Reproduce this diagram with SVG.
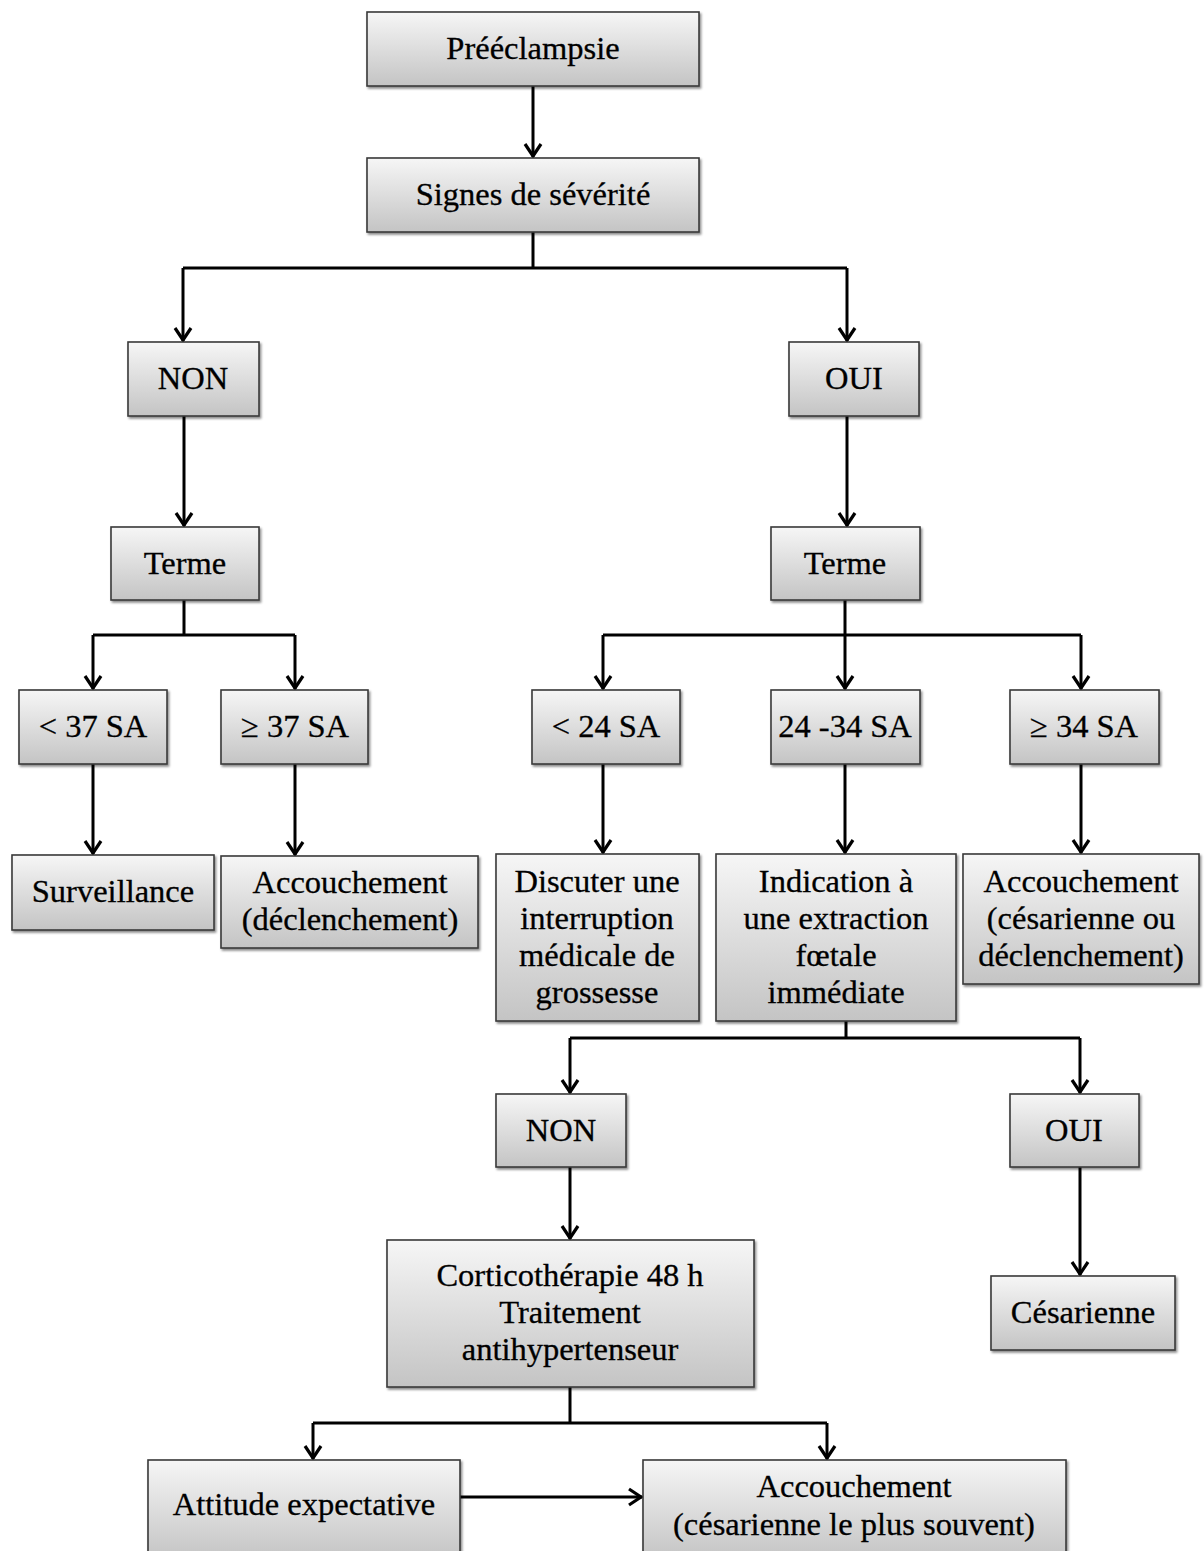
<svg xmlns="http://www.w3.org/2000/svg" width="1204" height="1551" viewBox="0 0 1204 1551">
<defs>
<linearGradient id="g" x1="0" y1="0" x2="0" y2="1">
<stop offset="0" stop-color="#f6f6f6"/>
<stop offset="1" stop-color="#c4c4c4"/>
</linearGradient>
<filter id="sh" x="-5%" y="-5%" width="110%" height="120%">
<feDropShadow dx="1.5" dy="2" stdDeviation="1.2" flood-color="#000" flood-opacity="0.45"/>
</filter>
<marker id="ah" markerWidth="18" markerHeight="20" refX="15" refY="10" orient="auto" markerUnits="userSpaceOnUse" viewBox="0 0 18 20">
<path d="M2,2 L14,10 L2,18" fill="none" stroke="#000" stroke-width="3.2"/>
</marker>
</defs>
<style>
.b{fill:url(#g);stroke:#3a3a3a;stroke-width:1.6;filter:url(#sh)}
.t{font-family:"Liberation Serif","Times New Roman",serif;font-size:32.5px;fill:#000;stroke:#000;stroke-width:0.3;text-anchor:middle}
.c{fill:none;stroke:#000;stroke-width:3}
.a{marker-end:url(#ah)}
</style>
<rect width="1204" height="1551" fill="#fff"/>
<g id="connectors">
<path class="c a" d="M533,86 V157"/>
<path class="c" d="M533,232 V268 M183,268 H847"/>
<path class="c a" d="M183,268 V341"/>
<path class="c a" d="M847,268 V341"/>
<path class="c a" d="M184,416 V526"/>
<path class="c a" d="M847,416 V526"/>
<path class="c" d="M184,600 V635 M93,635 H295"/>
<path class="c a" d="M93,635 V689"/>
<path class="c a" d="M295,635 V689"/>
<path class="c a" d="M93,764 V854"/>
<path class="c a" d="M295,764 V855"/>
<path class="c" d="M845,600 V635 M603,635 H1081"/>
<path class="c a" d="M603,635 V689"/>
<path class="c a" d="M845,635 V689"/>
<path class="c a" d="M1081,635 V689"/>
<path class="c a" d="M603,764 V853"/>
<path class="c a" d="M845,764 V853"/>
<path class="c a" d="M1081,764 V853"/>
<path class="c" d="M846,1021 V1038 M570,1038 H1080"/>
<path class="c a" d="M570,1038 V1093"/>
<path class="c a" d="M1080,1038 V1093"/>
<path class="c a" d="M570,1167 V1239"/>
<path class="c a" d="M1080,1167 V1275"/>
<path class="c" d="M570,1387 V1423 M313,1423 H827"/>
<path class="c a" d="M313,1423 V1459"/>
<path class="c a" d="M827,1423 V1459"/>
<path class="c a" d="M460,1497 H642"/>
</g>
<g id="n1"><rect class="b" x="367" y="12" width="332" height="74"/><text class="t" x="533" y="59">Prééclampsie</text></g>
<g id="n2"><rect class="b" x="367" y="158" width="332" height="74"/><text class="t" x="533" y="205">Signes de sévérité</text></g>
<g id="n3"><rect class="b" x="128" y="342" width="131" height="74"/><text class="t" x="193" y="389">NON</text></g>
<g id="n4"><rect class="b" x="789" y="342" width="130" height="74"/><text class="t" x="854" y="389">OUI</text></g>
<g id="n5"><rect class="b" x="111" y="527" width="148" height="73"/><text class="t" x="185" y="574">Terme</text></g>
<g id="n6"><rect class="b" x="771" y="527" width="149" height="73"/><text class="t" x="845" y="574">Terme</text></g>
<g id="n7"><rect class="b" x="19" y="690" width="148" height="74"/><text class="t" x="93" y="737">&lt; 37 SA</text></g>
<g id="n8"><rect class="b" x="221" y="690" width="147" height="74"/><text class="t" x="295" y="737">≥ 37 SA</text></g>
<g id="n9"><rect class="b" x="532" y="690" width="148" height="74"/><text class="t" x="606" y="737">&lt; 24 SA</text></g>
<g id="n10"><rect class="b" x="771" y="690" width="149" height="74"/><text class="t" x="845" y="737">24 -34 SA</text></g>
<g id="n11"><rect class="b" x="1010" y="690" width="149" height="74"/><text class="t" x="1084" y="737">≥ 34 SA</text></g>
<g id="n12"><rect class="b" x="12" y="855" width="202" height="75"/><text class="t" x="113" y="902">Surveillance</text></g>
<g id="n13"><rect class="b" x="221" y="856" width="257" height="92"/><text class="t" x="350" y="893">Accouchement</text><text class="t" x="350" y="930">(déclenchement)</text></g>
<g id="n14"><rect class="b" x="496" y="854" width="203" height="167"/><text class="t" x="597" y="892">Discuter une</text><text class="t" x="597" y="929">interruption</text><text class="t" x="597" y="966">médicale de</text><text class="t" x="597" y="1003">grossesse</text></g>
<g id="n15"><rect class="b" x="716" y="854" width="240" height="167"/><text class="t" x="836" y="892">Indication à</text><text class="t" x="836" y="929">une extraction</text><text class="t" x="836" y="966">fœtale</text><text class="t" x="836" y="1003">immédiate</text></g>
<g id="n16"><rect class="b" x="963" y="854" width="236" height="130"/><text class="t" x="1081" y="892">Accouchement</text><text class="t" x="1081" y="929">(césarienne ou</text><text class="t" x="1081" y="966">déclenchement)</text></g>
<g id="n17"><rect class="b" x="496" y="1094" width="130" height="73"/><text class="t" x="561" y="1141">NON</text></g>
<g id="n18"><rect class="b" x="1010" y="1094" width="129" height="73"/><text class="t" x="1074" y="1141">OUI</text></g>
<g id="n19"><rect class="b" x="387" y="1240" width="367" height="147"/><text class="t" x="570" y="1286">Corticothérapie 48 h</text><text class="t" x="570" y="1323">Traitement</text><text class="t" x="570" y="1360">antihypertenseur</text></g>
<g id="n20"><rect class="b" x="991" y="1276" width="184" height="74"/><text class="t" x="1083" y="1323">Césarienne</text></g>
<g id="n21"><rect class="b" x="148" y="1460" width="312" height="100"/><text class="t" x="304" y="1515">Attitude expectative</text></g>
<g id="n22"><rect class="b" x="643" y="1460" width="423" height="100"/><text class="t" x="854" y="1497">Accouchement</text><text class="t" x="854" y="1535">(césarienne le plus souvent)</text></g>
</svg>
